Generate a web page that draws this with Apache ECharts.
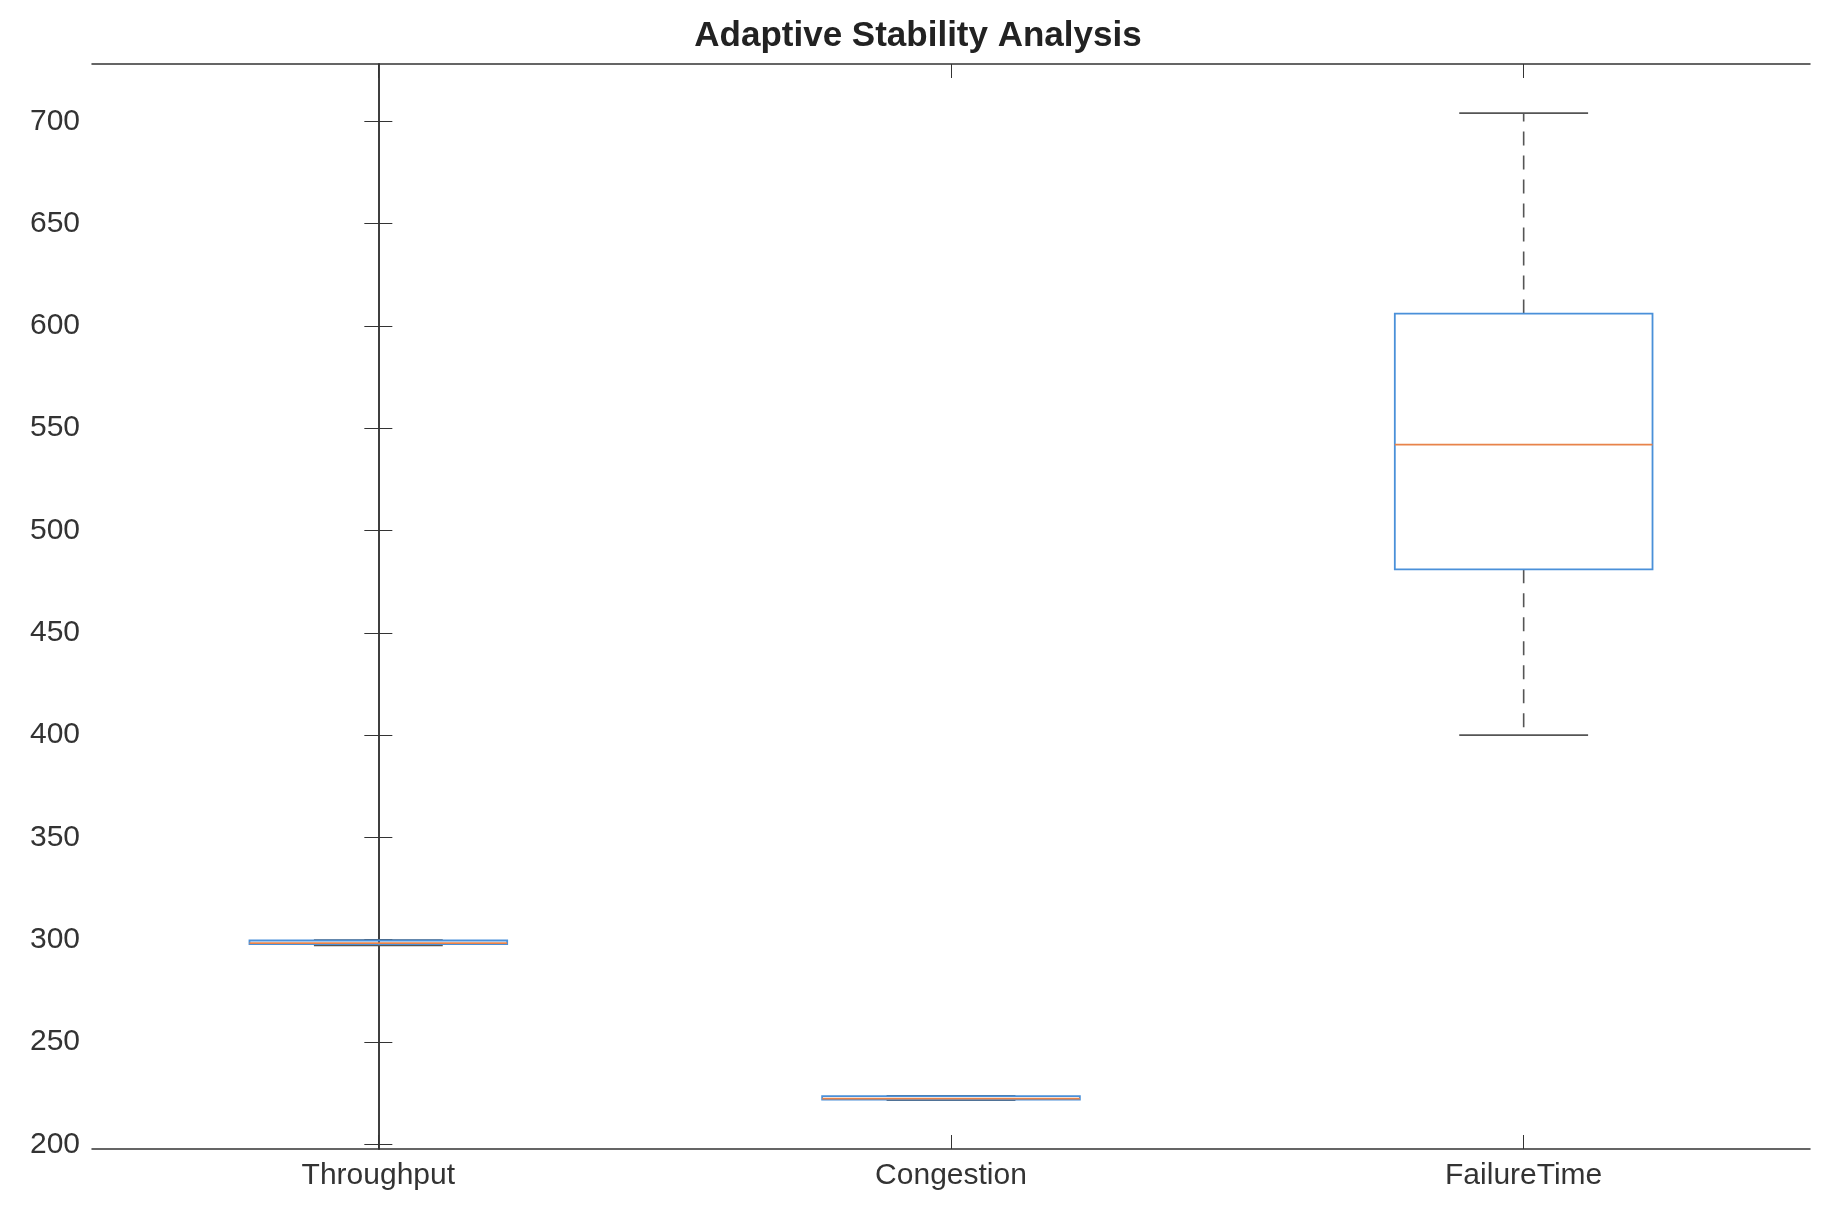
<!DOCTYPE html>
<html><head><meta charset="utf-8">
<script src="https://cdn.jsdelivr.net/npm/echarts@6/dist/echarts.min.js"></script>
<style>html,body{margin:0;background:#fff}#c{width:1836px;height:1221px}</style>
</head><body><div id="c"></div>
<script>
const categories = ['Throughput', 'Congestion', 'FailureTime'];
const mins    = [297.2, 221.6, 400];
const q1s     = [297.8, 221.9, 481];
const medians = [298.3, 222.3, 542];
const q3s     = [299.6, 223.5, 606];
const maxs    = [299.8, 223.7, 704];
const yTicks = [200, 250, 300, 350, 400, 450, 500, 550, 600, 650, 700];
const xTicks = [0, 1, 2];

const data = categories.map((c, i) => [i, mins[i], q1s[i], medians[i], q3s[i], maxs[i]]);
const chart = echarts.init(document.getElementById('c'));
const axisCol = '#333';
const font = 'Arial, Liberation Sans';
const xBase = {
  type: 'value', min: -0.5, max: 2.5,
  axisLine: { show: true, lineStyle: { color: axisCol, width: 1.5 } },
  axisTick: { show: true, inside: true, length: 14, lineStyle: { color: axisCol }, customValues: xTicks },
  splitLine: { show: false }
};
chart.setOption({
  animation: false,
  title: { text: 'Adaptive Stability Analysis', left: 'center', top: 14,
    textStyle: { fontFamily: font, fontWeight: 'bold', fontSize: 35, color: '#222' } },
  grid: { left: 92, right: 26, top: 64, bottom: 72 },
  xAxis: [
    Object.assign({}, xBase, { position: 'bottom',
      axisLabel: { fontFamily: font, fontSize: 30, color: '#333', margin: 12, customValues: xTicks,
        formatter: v => categories[Math.round(v)] } }),
    Object.assign({}, xBase, { position: 'top', axisLabel: { show: false } })
  ],
  yAxis: [
    { type: 'value', min: 197.7, max: 728,
      axisLine: { show: true, lineStyle: { color: axisCol, width: 1.5 } },
      axisTick: { show: true, inside: true, length: 14, lineStyle: { color: axisCol }, customValues: yTicks },
      splitLine: { show: false },
      axisLabel: { fontFamily: font, fontSize: 30, color: '#333', margin: 12, customValues: yTicks } },
    { type: 'value', min: 197.7, max: 728, position: 'right',
      axisLine: { show: true, lineStyle: { color: axisCol, width: 1.5 } },
      axisTick: { show: true, inside: true, length: 14, lineStyle: { color: axisCol }, customValues: yTicks },
      axisLabel: { show: false }, splitLine: { show: false } }
  ],
  series: [{
    type: 'custom',
    data: data,
    encode: { x: 0, y: [1, 2, 3, 4, 5] },
    renderItem: function (params, api) {
      const x = api.value(0);
      const bw = api.size([1, 0])[0] * 0.45;
      const c = api.coord([x, 300])[0];
      const y = k => api.coord([x, api.value(k)])[1];
      const yMin = y(1), yQ1 = y(2), yMed = y(3), yQ3 = y(4), yMax = y(5);
      const gray = '#555';
      const cap = bw / 2;
      return { type: 'group', children: [
        { type: 'line', shape: { x1: c, y1: yQ3, x2: c, y2: yMax }, style: { stroke: gray, lineWidth: 1.6, lineDash: [14, 10] } },
        { type: 'line', shape: { x1: c, y1: yQ1, x2: c, y2: yMin }, style: { stroke: gray, lineWidth: 1.6, lineDash: [14, 10] } },
        { type: 'line', shape: { x1: c - cap / 2, y1: yMax, x2: c + cap / 2, y2: yMax }, style: { stroke: gray, lineWidth: 1.6 } },
        { type: 'line', shape: { x1: c - cap / 2, y1: yMin, x2: c + cap / 2, y2: yMin }, style: { stroke: gray, lineWidth: 1.6 } },
        { type: 'rect', shape: { x: c - bw / 2, y: yQ3, width: bw, height: yQ1 - yQ3 }, style: { fill: 'none', stroke: '#4a90d9', lineWidth: 1.8 } },
        { type: 'line', shape: { x1: c - bw / 2, y1: yMed, x2: c + bw / 2, y2: yMed }, style: { stroke: '#e8834a', lineWidth: 1.8 } }
      ]};
    }
  }]
});
</script></body></html>
